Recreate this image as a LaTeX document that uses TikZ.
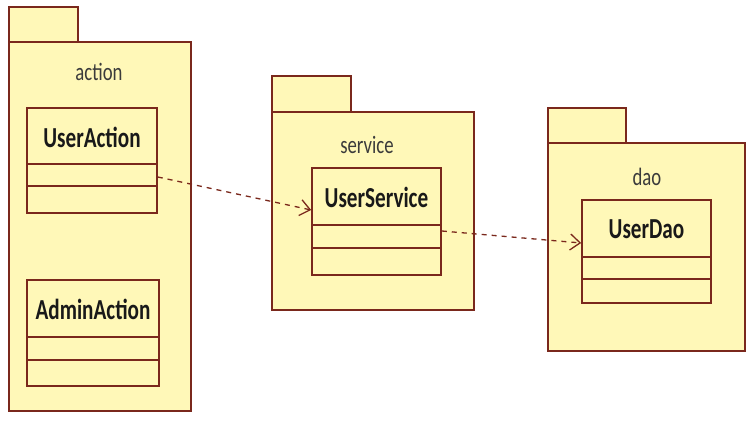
\documentclass[tikz,border=0pt]{standalone}
\usepackage{fontspec}
\setmainfont{Carlito}
\newfontfamily\clsfont[FakeStretch=0.73]{Carlito}
\newfontfamily\pkgfont[FakeStretch=0.75]{Carlito}
\usetikzlibrary{arrows.meta,calc}
\definecolor{pkgfill}{RGB}{255,248,184}
\definecolor{pkgline}{RGB}{122,40,28}
\definecolor{txt}{RGB}{25,25,25}
\tikzset{
  pkgbox/.style={draw=pkgline,fill=pkgfill,line width=1.6pt},
  classbox/.style={draw=pkgline,fill=pkgfill,line width=1.6pt,rectangle,inner sep=0pt},
  sep/.style={draw=pkgline,line width=1.6pt},
  pkglabel/.style={font=\pkgfont\fontsize{25}{28}\selectfont,text=txt!85,inner sep=0pt},
  clslabel/.style={font=\clsfont\bfseries\fontsize{29}{32}\selectfont,text=txt,inner sep=0pt},
  dep/.style={draw=pkgline,line width=1.3pt,dash pattern=on 5pt off 5pt,-{Straight Barb[length=10pt,width=16pt,line width=1.3pt]}}
}
\begin{document}
\begin{tikzpicture}[x=1pt,y=-1pt]
\useasboundingbox[fill=white] (0,0) rectangle (756,422);
% action package
\draw[pkgbox] (9,7) rectangle (78,42);
\draw[pkgbox] (9,42) rectangle (191,411);
\node[pkglabel] (lact) at (99,72) {action};
% service package
\draw[pkgbox] (272,76) rectangle (351,112);
\draw[pkgbox] (272,112) rectangle (474,310);
\node[pkglabel] (lsrv) at (367,145) {service};
% dao package
\draw[pkgbox] (548,108) rectangle (626,143);
\draw[pkgbox] (548,143) rectangle (745,351);
\node[pkglabel] (ldao) at (647,177) {dao};
% classes
\node[classbox,minimum width=130pt,minimum height=105pt] (ua) at (92,160.5) {};
\draw[sep] (27,164) -- (157,164) (27,186) -- (157,186);
\node[clslabel] (uat) at (92,137) {UserAction};
\node[classbox,minimum width=132pt,minimum height=106pt] (aa) at (93,333) {};
\draw[sep] (27,337) -- (159,337) (27,360) -- (159,360);
\node[clslabel] (aat) at (93,309.5) {AdminAction};
\node[classbox,minimum width=129pt,minimum height=107pt] (us) at (376.5,221.5) {};
\draw[sep] (312,225) -- (441,225) (312,248) -- (441,248);
\node[clslabel] (ust) at (376.5,197.5) {UserService};
\node[classbox,minimum width=129pt,minimum height=103pt] (ud) at (646.5,251.5) {};
\draw[sep] (582,257) -- (711,257) (582,279) -- (711,279);
\node[clslabel] (udt) at (646.5,229.5) {UserDao};
% connector end points
\coordinate (uaout) at (ua.north east |- 0,177);
\coordinate (usin) at (us.north west |- 0,210);
\coordinate (usout) at (us.north east |- 0,231);
\coordinate (udin) at (ud.north west |- 0,243);
\draw[dep] (uaout) -- (usin);
\draw[dep] (usout) -- (udin);
\end{tikzpicture}
\end{document}
